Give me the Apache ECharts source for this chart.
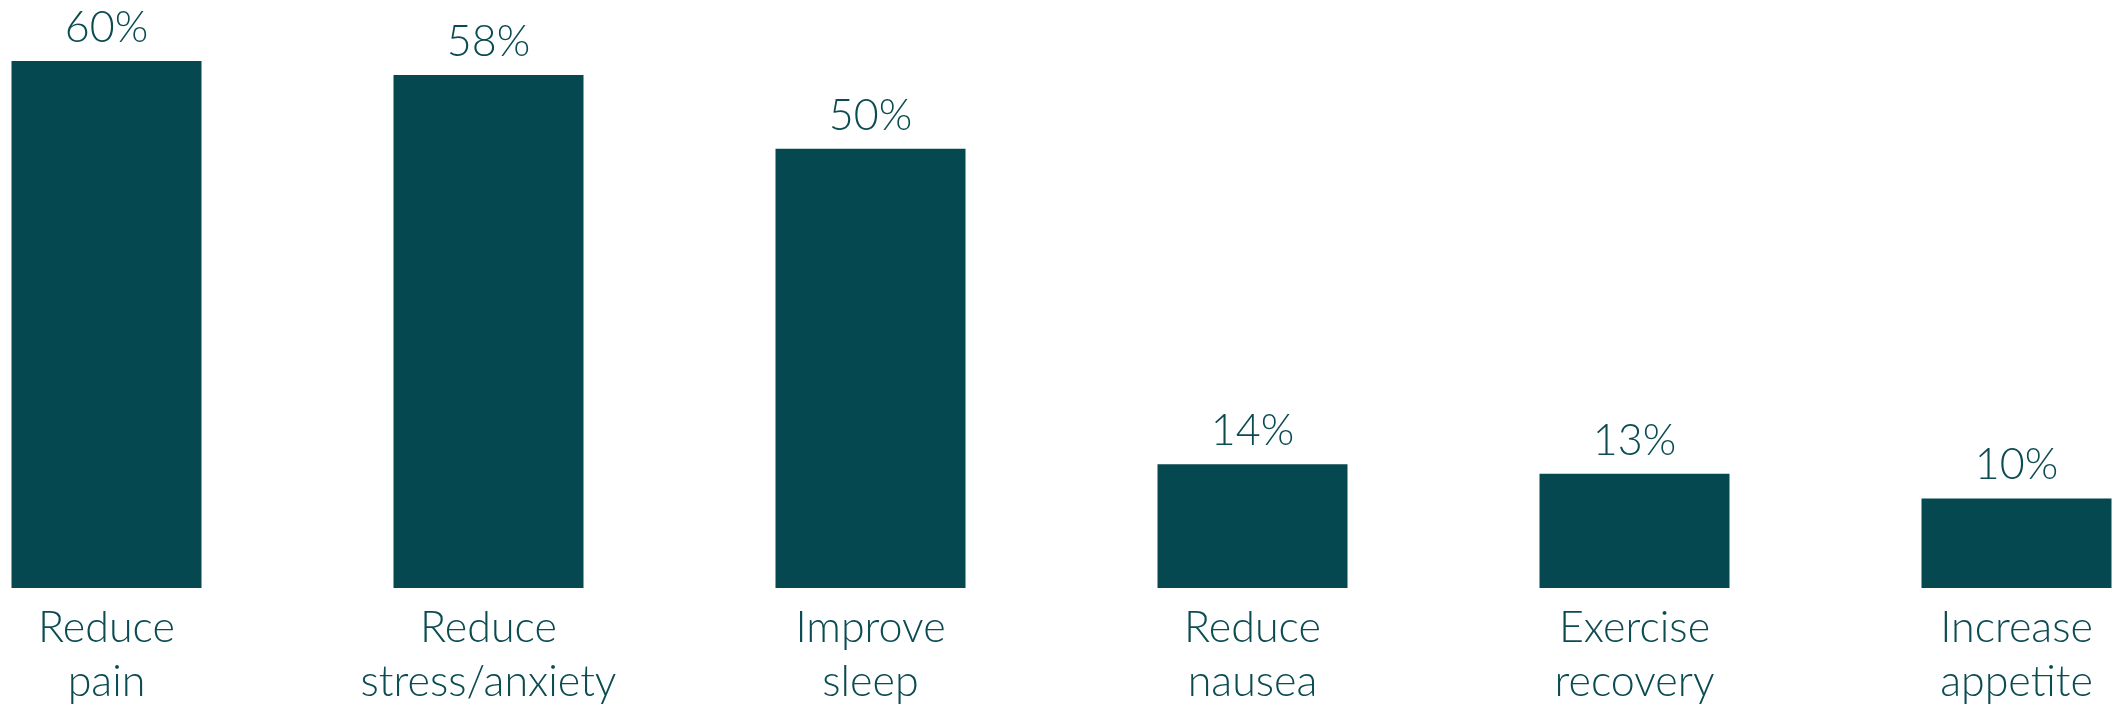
<!DOCTYPE html>
<html>
<head>
<meta charset="utf-8">
<script src="https://cdn.jsdelivr.net/npm/echarts@6/dist/echarts.min.js"></script>
<style>html,body{margin:0;padding:0;background:#fff;}#c{width:2114px;height:709px;}</style>
</head>
<body>
<div id="c"></div>
<script>
const categories = ["Reduce\npain", "Reduce\nstress/anxiety", "Improve\nsleep", "Reduce\nnausea", "Exercise\nrecovery", "Increase\nappetite"];
// bar heights; labels show them rounded
const values = [60, 58.4, 50, 14.1, 13, 10.2];

const teal = '#06484f';
const textColor = '#0b4b52';
const chart = echarts.init(document.getElementById('c'), null, {renderer: 'canvas'});
chart.setOption({
  animation: false,
  backgroundColor: '#ffffff',
  grid: {left: -84.5, right: -93.5, top: 61, bottom: 121, outerBoundsMode: 'none', containLabel: false},
  xAxis: {
    type: 'category',
    data: categories,
    axisLine: {show: false},
    axisTick: {show: false},
    axisLabel: {
      interval: 0,
      margin: 13,
      color: textColor,
      fontFamily: 'Lato',
      fontWeight: 300,
      fontSize: 43,
      lineHeight: 54,
      hideOverlap: false
    }
  },
  yAxis: {
    type: 'value', min: 0, max: 60, show: false,
    splitLine: {show: false}
  },
  series: [{
    type: 'bar',
    data: values,
    barWidth: 190,
    itemStyle: {color: teal},
    label: {
      show: true,
      position: 'top',
      distance: 12,
      formatter: p => Math.round(p.value) + '%',
      color: textColor,
      fontFamily: 'Lato',
      fontWeight: 300,
      fontSize: 43,
      lineHeight: 42
    }
  }]
});
</script>
</body>
</html>
